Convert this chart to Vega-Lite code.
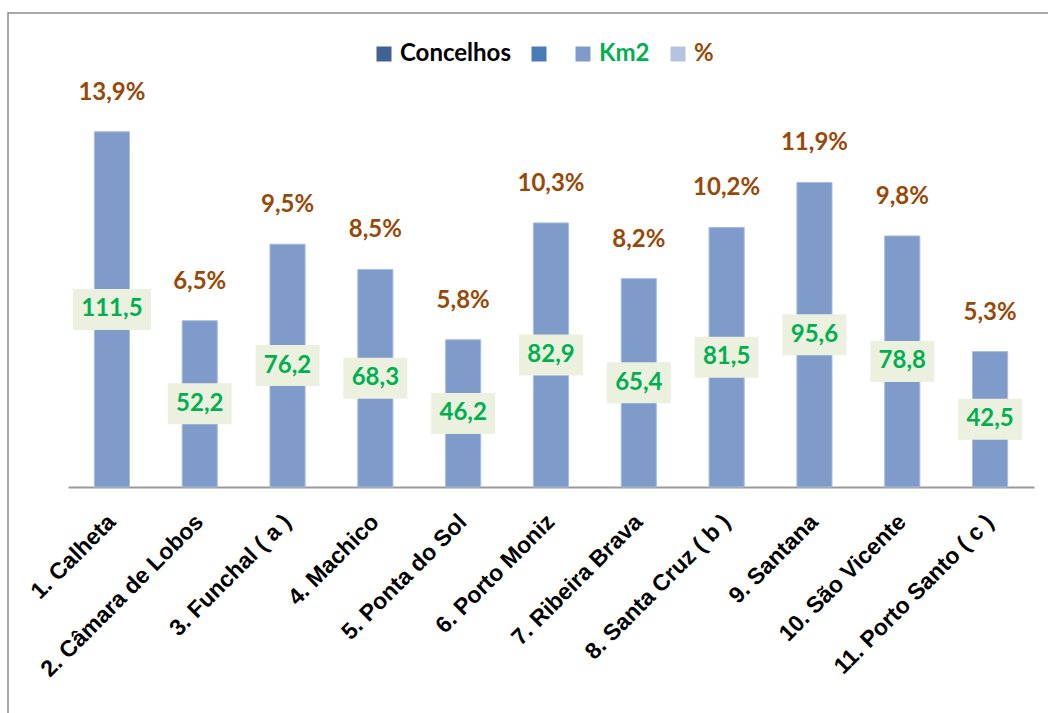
{
  "$schema": "https://vega.github.io/schema/vega-lite/v6.json",
  "width": 1041,
  "height": 701,
  "autosize": {"type": "none"},
  "padding": {"left": 8, "top": 13, "right": 0, "bottom": 0},
  "background": "white",
  "config": {
    "view": {"stroke": "#8c8c8c", "strokeWidth": 1.5},
    "locale": {"number": {"decimal": ",", "thousands": ".", "grouping": [3], "currency": ["", " €"]}}
  },
  "data": {
    "values": [
      {"concelho": "1. Calheta", "km2": 111.5, "pct": 0.139},
      {"concelho": "2. Câmara de Lobos", "km2": 52.2, "pct": 0.065},
      {"concelho": "3. Funchal ( a )", "km2": 76.2, "pct": 0.095},
      {"concelho": "4. Machico", "km2": 68.3, "pct": 0.085},
      {"concelho": "5. Ponta do Sol", "km2": 46.2, "pct": 0.058},
      {"concelho": "6. Porto Moniz", "km2": 82.9, "pct": 0.103},
      {"concelho": "7. Ribeira Brava", "km2": 65.4, "pct": 0.082},
      {"concelho": "8. Santa  Cruz ( b )", "km2": 81.5, "pct": 0.102},
      {"concelho": "9. Santana", "km2": 95.6, "pct": 0.119},
      {"concelho": "10. São Vicente", "km2": 78.8, "pct": 0.098},
      {"concelho": "11. Porto Santo ( c )", "km2": 42.5, "pct": 0.053}
    ]
  },
  "encoding": {
    "x": {
      "field": "concelho",
      "type": "nominal",
      "sort": null,
      "scale": {"range": [60, 1026], "paddingInner": 0.6, "paddingOuter": 0.3},
      "axis": {
        "title": null,
        "orient": "bottom",
        "offset": -227,
        "domainColor": "#9a9a9a",
        "domainWidth": 2,
        "ticks": false,
        "labelAngle": -45,
        "labelAlign": "right",
        "labelBaseline": "middle",
        "labelPadding": 31,
        "labelLimit": 400,
        "labelFont": "Liberation Sans",
        "labelFontWeight": "bold",
        "labelFontSize": 23,
        "labelColor": "#000000"
      }
    }
  },
  "layer": [
    {
      "encoding": {
        "y": {
          "field": "km2",
          "type": "quantitative",
          "scale": {"domain": [0, 140], "range": [474, 28], "nice": false, "zero": true},
          "axis": null
        }
      },
      "layer": [
        {
          "mark": {"type": "bar", "stroke": "#a9bcde", "strokeWidth": 1},
          "encoding": {
            "color": {
              "datum": "Km2",
              "type": "nominal",
              "scale": {
                "domain": ["Concelhos", "s2", "Km2", "%"],
                "range": ["#3f6196", "#4a7bb7", "#7f9bc9", "#b4c4df"]
              },
              "legend": {
                "title": null,
                "orient": "none",
                "legendX": 364,
                "legendY": 29,
                "direction": "horizontal",
                "symbolType": "square",
                "symbolSize": 225,
                "symbolStrokeWidth": 0,
                "labelFont": "Lato",
                "labelFontWeight": "bold",
                "labelFontSize": 24,
                "labelOffset": 4,
                "columnPadding": 16,
                "labelColor": {"expr": "datum.value === 'Km2' ? '#00b050' : datum.value === '%' ? '#984807' : '#000000'"},
                "labelExpr": "datum.value === 's2' ? ' ' : datum.label"
              }
            }
          }
        },
        {
          "mark": {"type": "text", "font": "Lato", "fontWeight": "bold", "fontSize": 24, "color": "#984807", "baseline": "middle", "align": "center", "dy": -39},
          "encoding": {
            "text": {"field": "pct", "type": "quantitative", "format": ".1%"}
          }
        }
      ]
    },
    {
      "encoding": {
        "y": {
          "field": "km2",
          "type": "quantitative",
          "scale": {"domain": [0, 280], "range": [474, 28], "nice": false, "zero": true},
          "axis": null
        }
      },
      "layer": [
        {
          "mark": {"type": "bar", "color": "#ebf1de", "yOffset": -20.5, "y2Offset": 20.5},
          "encoding": {
            "y2": {"field": "km2"},
            "size": {"field": "km2", "type": "quantitative", "scale": {"type": "threshold", "domain": [100], "range": [64, 78]}, "legend": null}
          }
        },
        {
          "mark": {"type": "text", "font": "Lato", "fontWeight": "bold", "fontSize": 24, "color": "#00b050", "baseline": "middle", "align": "center"},
          "encoding": {
            "text": {"field": "km2", "type": "quantitative", "format": ".1f"}
          }
        }
      ]
    }
  ],
  "resolve": {"scale": {"y": "independent"}}
}
